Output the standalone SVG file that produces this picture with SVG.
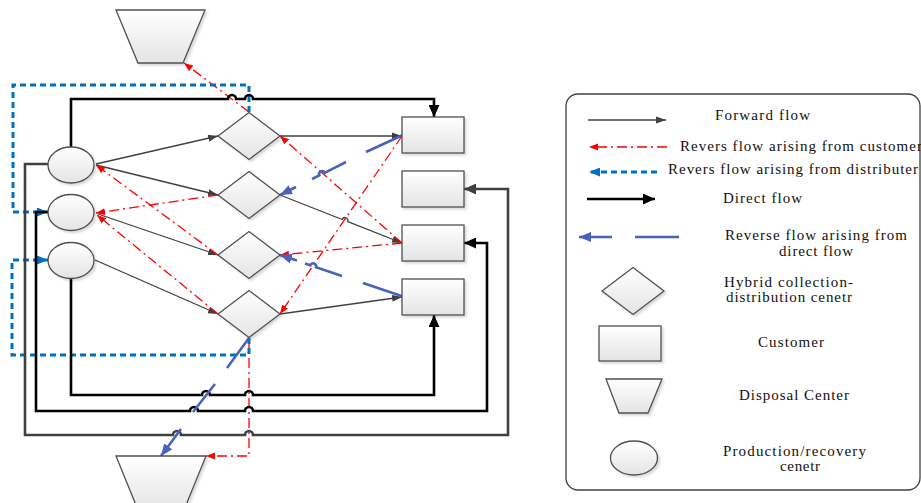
<svg xmlns="http://www.w3.org/2000/svg" width="921" height="503" viewBox="0 0 921 503">
<defs>
  <linearGradient id="g" x1="0" y1="0" x2="0" y2="1">
    <stop offset="0" stop-color="#ffffff"/>
    <stop offset="1" stop-color="#e4e4e4"/>
  </linearGradient>
  <filter id="sh" x="-20%" y="-20%" width="150%" height="150%">
    <feDropShadow dx="2" dy="2" stdDeviation="1" flood-color="#000" flood-opacity="0.15"/>
  </filter>
  <marker id="aGray" markerUnits="userSpaceOnUse" markerWidth="10" markerHeight="8" refX="10" refY="4" orient="auto"><path d="M0,0.5 L10,4 L0,7.5 z" fill="#404040"/></marker>
  <marker id="aRed" markerUnits="userSpaceOnUse" markerWidth="10" markerHeight="8" refX="9" refY="4" orient="auto"><path d="M0,0.5 L9,4 L0,7.5 z" fill="#ff0000"/></marker>
  <marker id="aBlue" markerUnits="userSpaceOnUse" markerWidth="11" markerHeight="9" refX="11" refY="4.5" orient="auto"><path d="M0,0 L11,4.5 L0,9 z" fill="#0070c0"/></marker>
  <marker id="aBlack" markerUnits="userSpaceOnUse" markerWidth="12" markerHeight="11" refX="12" refY="5.5" orient="auto"><path d="M0,0 L12,5.5 L0,11 z" fill="#000"/></marker>
  <marker id="aDark" markerUnits="userSpaceOnUse" markerWidth="12" markerHeight="11" refX="12" refY="5.5" orient="auto"><path d="M0,0 L12,5.5 L0,11 z" fill="#404040"/></marker>
  <marker id="aPurp" markerUnits="userSpaceOnUse" markerWidth="12" markerHeight="10" refX="12" refY="5" orient="auto"><path d="M0,0 L12,5 L0,10 z" fill="#4a62b8"/></marker>
</defs>
<style>
  .shape{fill:url(#g);stroke:#505050;stroke-width:1.3;filter:url(#sh)}
  .fwd{fill:none;stroke:#404040;stroke-width:1.3}
  .red{fill:none;stroke:#ff0000;stroke-width:1.3;stroke-dasharray:10 4 2 4}
  .blu{fill:none;stroke:#0070c0;stroke-width:3;stroke-dasharray:6 4}
  .blk{fill:none;stroke:#000;stroke-width:2.6}
  .dk{fill:none;stroke:#404040;stroke-width:2.6}
  .pur{fill:none;stroke:#4a62b8;stroke-width:2.6}
  .lbl{font-family:'Liberation Serif','Times New Roman',serif;font-size:15px;fill:#111}
</style>
<rect width="921" height="503" fill="#fff"/>

<g id="connectors">
  <!-- forward flow -->
  <path class="fwd" d="M96,164 L218,136" marker-end="url(#aGray)"/>
  <path class="fwd" d="M96,165 L218,195" marker-end="url(#aGray)"/>
  <path class="fwd" d="M98,214 L218,255" marker-end="url(#aGray)"/>
  <path class="fwd" d="M95,260 L218,314" marker-end="url(#aGray)"/>
  <path class="fwd" d="M280,136 L402,136" marker-end="url(#aGray)"/>
  <path class="fwd" d="M280,195 L342.2,219.5 A3,3 0 0 1 347.8,221.7 L402,243" marker-end="url(#aGray)"/>
  <path class="fwd" d="M280,314 L402,297" marker-end="url(#aGray)"/>

  <!-- reverse flow arising from customer -->
  <path class="red" d="M402,136 L280,314" marker-end="url(#aRed)"/>
  <path class="red" d="M402,243 L280,136" marker-end="url(#aRed)"/>
  <path class="red" d="M402,243 L280,255" marker-end="url(#aRed)"/>
  <path class="red" d="M249,112 L184,63" marker-end="url(#aRed)"/>
  <path class="red" d="M218,195 L96,213" marker-end="url(#aRed)"/>
  <path class="red" d="M218,255 L96,165" marker-end="url(#aRed)"/>
  <path class="red" d="M218,314 L97,215" marker-end="url(#aRed)"/>
  <path class="red" d="M249,338 L249,456 L206,456" marker-end="url(#aRed)"/>

  <!-- reverse flow arising from distributer -->
  <path class="blu" d="M249,112 L249,85 L13,85 L13,212 L48,212" marker-end="url(#aBlue)"/>
  <path class="blu" d="M249,338 L249,355 L12,355 L12,260 L48,260" marker-end="url(#aBlue)"/>

  <!-- direct flow -->
  <path class="blk" d="M71,147 L71,99 L228,99 A4,4 0 0 1 236,99 L245,99 A4,4 0 0 1 253,99 L434,99 L434,117" marker-end="url(#aBlack)"/>
  <path class="dk" d="M48,164 L25,164 L25,435 L173,435 A4,4 0 0 1 181,435 L245,435 A4,4 0 0 1 253,435 L508,435 L508,189 L464,189" marker-end="url(#aDark)"/>
  <path class="blk" d="M48,212 L36,212 L36,411 L190,411 A4,4 0 0 1 198,411 L245,411 A4,4 0 0 1 253,411 L487,411 L487,243 L464,243" marker-end="url(#aBlack)"/>
  <path class="blk" d="M71,279 L71,395 L202,395 A4,4 0 0 1 210,395 L245,395 A4,4 0 0 1 253,395 L434,395 L434,315" marker-end="url(#aBlack)"/>

  <!-- reverse flow arising from direct flow -->
  <path class="pur" d="M403,135 L366,152"/>
  <path class="pur" d="M346,162 L324.7,172.8 A3,3 0 0 0 319.3,175.4 L312,179"/>
  <path class="pur" d="M296,187 L280,195" marker-end="url(#aPurp)"/>
  <path class="pur" d="M403,296.5 L363,283"/>
  <path class="pur" d="M342,276 L316,267.2 A3,3 0 0 0 310.3,265.3 L305,263.5"/>
  <path class="pur" d="M297,260.5 L280,255" marker-end="url(#aPurp)"/>
  <path class="pur" d="M249,338 L227,368"/>
  <path class="pur" d="M215,384 L193,412"/>
  <path class="pur" d="M181,429 L161,456" marker-end="url(#aPurp)"/>
</g>

<g id="disposal-top"><path class="shape" d="M116,10 L205,10 L183,63 L138,63 z"/></g>
<g id="disposal-bottom"><path class="shape" d="M116,456 L206,456 L184,510 L138,510 z"/></g>

<g id="prc-1"><ellipse class="shape" cx="71" cy="165" rx="23" ry="18"/></g>
<g id="prc-2"><ellipse class="shape" cx="71" cy="212.5" rx="23" ry="18"/></g>
<g id="prc-3"><ellipse class="shape" cx="71" cy="260.5" rx="23" ry="18"/></g>

<g id="hub-1"><path class="shape" d="M218,136 L249,112.5 L280,136 L249,159.5 z"/></g>
<g id="hub-2"><path class="shape" d="M218,195 L249,171.5 L280,195 L249,218.5 z"/></g>
<g id="hub-3"><path class="shape" d="M218,255 L249,231.5 L280,255 L249,278.5 z"/></g>
<g id="hub-4"><path class="shape" d="M218,314 L249,290.5 L280,314 L249,337.5 z"/></g>

<g id="cust-1"><rect class="shape" x="402" y="117" width="62" height="36"/></g>
<g id="cust-2"><rect class="shape" x="402" y="171" width="62" height="36"/></g>
<g id="cust-3"><rect class="shape" x="402" y="225" width="62" height="36"/></g>
<g id="cust-4"><rect class="shape" x="402" y="279" width="62" height="36"/></g>

<g id="legend" font-family="Liberation Serif, Times New Roman, serif" font-size="15">
  <rect x="566" y="94" width="354" height="396" rx="12" fill="#fff" stroke="#404040" stroke-width="1.3"/>
  <path class="fwd" d="M588,120 L666,120" marker-end="url(#aGray)"/>
  <text class="lbl" x="715" y="120" textLength="95" lengthAdjust="spacing">Forward flow</text>
  <path class="red" d="M667,147 L589,147" marker-end="url(#aRed)"/>
  <text class="lbl" x="680" y="151" textLength="242" lengthAdjust="spacing">Revers flow arising from customer</text>
  <path class="blu" d="M657,172 L589,172" marker-end="url(#aBlue)"/>
  <text class="lbl" x="668" y="174" textLength="250" lengthAdjust="spacing">Revers flow arising from distributer</text>
  <path class="blk" d="M587,199 L655,199" marker-end="url(#aBlack)"/>
  <text class="lbl" x="723" y="203" textLength="79" lengthAdjust="spacing">Direct flow</text>
  <path class="pur" d="M612,237 L579,237" marker-end="url(#aPurp)"/>
  <path class="pur" d="M635,237 L679,237"/>
  <text class="lbl" x="725" y="240" textLength="182" lengthAdjust="spacing">Reverse flow arising from</text>
  <text class="lbl" x="779" y="256" textLength="74" lengthAdjust="spacing">direct flow</text>
  <path class="shape" d="M602,291 L633,267.5 L664,291 L633,314.5 z"/>
  <text class="lbl" x="724" y="287" textLength="129" lengthAdjust="spacing">Hybrid collection-</text>
  <text class="lbl" x="726" y="302" textLength="126" lengthAdjust="spacing">distribution cenetr</text>
  <rect class="shape" x="599" y="326" width="62" height="35"/>
  <text class="lbl" x="758" y="347" textLength="66" lengthAdjust="spacing">Customer</text>
  <path class="shape" d="M606,379 L662,379 L648,413 L619,413 z"/>
  <text class="lbl" x="739" y="400" textLength="110" lengthAdjust="spacing">Disposal Center</text>
  <ellipse class="shape" cx="634" cy="458" rx="23.5" ry="17"/>
  <text class="lbl" x="723" y="456" textLength="143" lengthAdjust="spacing">Production/recovery</text>
  <text class="lbl" x="780" y="471" textLength="40" lengthAdjust="spacing">cenetr</text>
</g>
</svg>
